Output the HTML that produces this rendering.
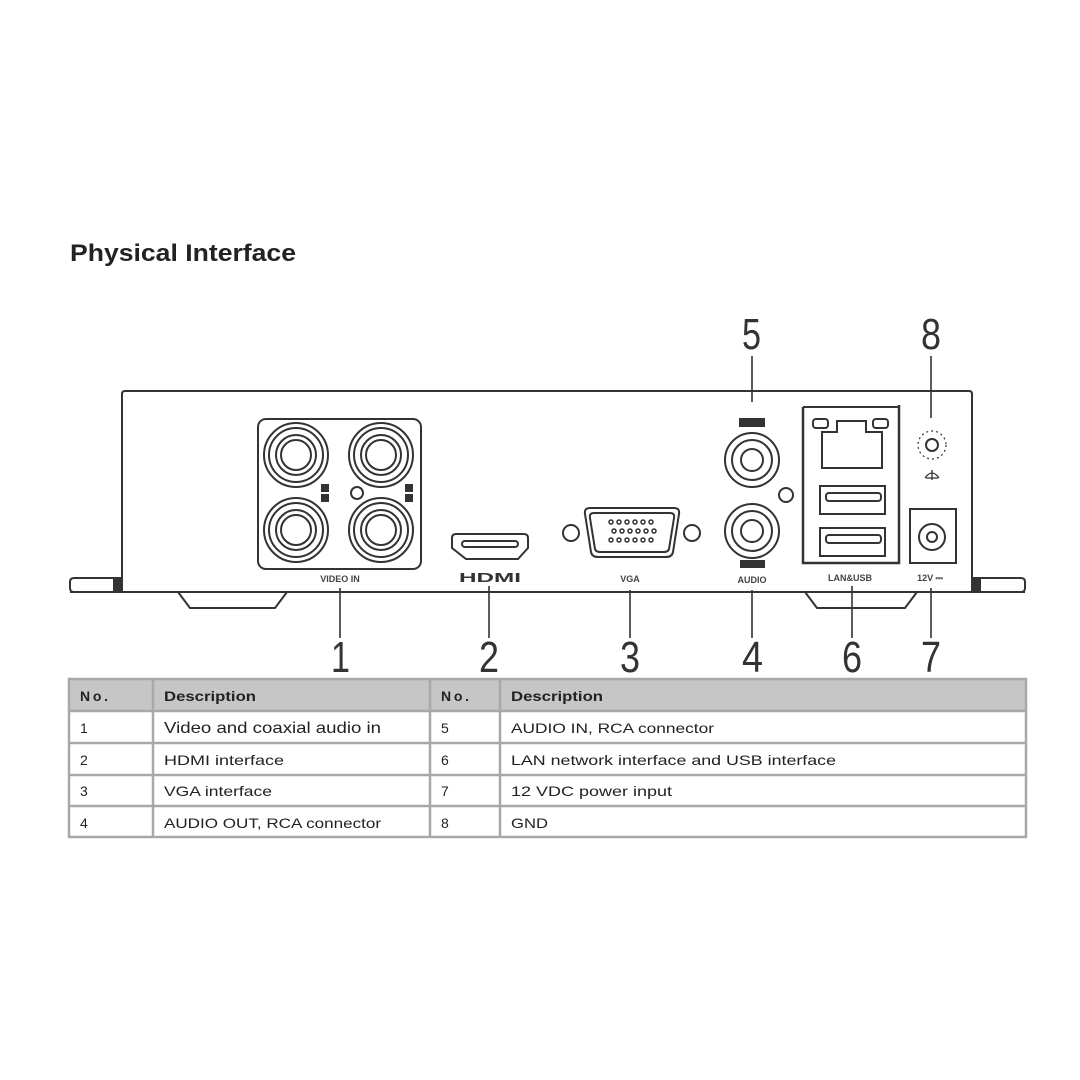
<!DOCTYPE html>
<html><head><meta charset="utf-8"><style>
html,body{margin:0;padding:0;background:#fff}
svg{display:block}
text{font-family:"Liberation Sans",sans-serif}
</style></head><body>
<svg width="1080" height="1080" viewBox="0 0 1080 1080" xmlns="http://www.w3.org/2000/svg">
<rect width="1080" height="1080" fill="#fff"/>
<text x="70" y="261" font-size="24" font-weight="bold" fill="#222" textLength="226" lengthAdjust="spacingAndGlyphs">Physical Interface</text>

<g fill="none" stroke="#333" stroke-width="2">
<path d="M122 592 V394 Q122 391 125 391 H969 Q972 391 972 394 V592"/>
<line x1="70" y1="592" x2="1025" y2="592"/>
<path d="M122 578 H74 Q70 578 70 582 V588 Q70 592 74 592"/>
<path d="M972 578 H1021 Q1025 578 1025 582 V588 Q1025 592 1021 592"/>
<rect x="114" y="580" width="8" height="12" fill="#333"/>
<rect x="972" y="580" width="8" height="12" fill="#333"/>
<path d="M178 592 L190 608 H275 L287 592"/>
<path d="M805 592 L817 608 H905 L917 592"/>

<rect x="258" y="419" width="163" height="150" rx="8"/>
<g id="bnc">
<circle cx="296" cy="455" r="32"/><circle cx="296" cy="455" r="27"/><circle cx="296" cy="455" r="20"/><circle cx="296" cy="455" r="15"/>
</g>
<use href="#bnc" x="85"/><use href="#bnc" y="75"/><use href="#bnc" x="85" y="75"/>
<circle cx="357" cy="493" r="6"/>
<rect x="322" y="485" width="6" height="6" fill="#333"/><rect x="322" y="495" width="6" height="6" fill="#333"/>
<rect x="406" y="485" width="6" height="6" fill="#333"/><rect x="406" y="495" width="6" height="6" fill="#333"/>

<path d="M456 534 H524 Q528 534 528 538 V548 L518 559 H466 L452 548 V538 Q452 534 456 534Z"/>
<rect x="462" y="541" width="56" height="6" rx="3"/>

<circle cx="571" cy="533" r="8"/><circle cx="692" cy="533" r="8"/>
<path d="M590 508 H674 Q680 508 679 514 L673 552 Q672 557 666 557 H598 Q592 557 591 552 L585 514 Q584 508 590 508Z"/>
<path d="M594 513 H670 Q675 513 674 518 L669 549 Q668 552 664 552 H600 Q596 552 595 549 L590 518 Q589 513 594 513Z"/>
<g stroke-width="1.5">
<circle cx="611" cy="522" r="2"/><circle cx="619" cy="522" r="2"/><circle cx="627" cy="522" r="2"/><circle cx="635" cy="522" r="2"/><circle cx="643" cy="522" r="2"/><circle cx="651" cy="522" r="2"/>
<circle cx="614" cy="531" r="2"/><circle cx="622" cy="531" r="2"/><circle cx="630" cy="531" r="2"/><circle cx="638" cy="531" r="2"/><circle cx="646" cy="531" r="2"/><circle cx="654" cy="531" r="2"/>
<circle cx="611" cy="540" r="2"/><circle cx="619" cy="540" r="2"/><circle cx="627" cy="540" r="2"/><circle cx="635" cy="540" r="2"/><circle cx="643" cy="540" r="2"/><circle cx="651" cy="540" r="2"/>
</g>

<circle cx="752" cy="460" r="27"/><circle cx="752" cy="460" r="20"/><circle cx="752" cy="460" r="11"/>
<circle cx="752" cy="531" r="27"/><circle cx="752" cy="531" r="20"/><circle cx="752" cy="531" r="11"/>
<circle cx="786" cy="495" r="7"/>
<rect x="739" y="418" width="26" height="9" fill="#333" stroke="none"/>
<rect x="740" y="560" width="25" height="8" fill="#333" stroke="none"/>

<path d="M803 407 V563 H899 V405" stroke-width="2.5"/>
<path d="M803 407 H899"/>
<rect x="813" y="419" width="15" height="9" rx="3"/><rect x="873" y="419" width="15" height="9" rx="3"/>
<path d="M822 468 V432 H837 V421 H866 V432 H882 V468 Z"/>
<rect x="820" y="486" width="65" height="28"/><rect x="826" y="493" width="55" height="8" rx="3"/>
<rect x="820" y="528" width="65" height="28"/><rect x="826" y="535" width="55" height="8" rx="3"/>

<circle cx="932" cy="445" r="6"/>
<circle cx="932" cy="445" r="14" stroke-dasharray="2 3" stroke-width="1.2"/>
<path d="M925 478 Q932 468 939 478 M932 470 V480 M926 478 H938" stroke-width="1.3"/>

<rect x="910" y="509" width="46" height="54"/>
<circle cx="932" cy="537" r="13"/><circle cx="932" cy="537" r="5"/>

<g stroke-width="1.6">
<line x1="752" y1="356" x2="752" y2="402"/>
<line x1="931" y1="356" x2="931" y2="418"/>
<line x1="340" y1="588" x2="340" y2="638"/>
<line x1="489" y1="586" x2="489" y2="638"/>
<line x1="630" y1="590" x2="630" y2="638"/>
<line x1="752" y1="590" x2="752" y2="638"/>
<line x1="852" y1="586" x2="852" y2="638"/>
<line x1="931" y1="588" x2="931" y2="638"/>
</g>
</g>

<g fill="#444" font-size="9" font-weight="bold" text-anchor="middle">
<text x="340" y="582">VIDEO IN</text>
<text x="630" y="582">VGA</text>
<text x="752" y="583">AUDIO</text>
<text x="850" y="581">LAN&amp;USB</text>
<text x="930" y="581">12V ⎓</text>
</g>
<text x="490" y="582" font-size="13" font-weight="bold" fill="#333" text-anchor="middle" textLength="62" lengthAdjust="spacingAndGlyphs">HDMI</text>

<g fill="#333" font-size="44">
<text x="742" y="349" textLength="19" lengthAdjust="spacingAndGlyphs">5</text>
<text x="921" y="349" textLength="20" lengthAdjust="spacingAndGlyphs">8</text>
<text x="331" y="672" textLength="19" lengthAdjust="spacingAndGlyphs">1</text>
<text x="479" y="672" textLength="20" lengthAdjust="spacingAndGlyphs">2</text>
<text x="620" y="672" textLength="20" lengthAdjust="spacingAndGlyphs">3</text>
<text x="742" y="672" textLength="21" lengthAdjust="spacingAndGlyphs">4</text>
<text x="842" y="672" textLength="20" lengthAdjust="spacingAndGlyphs">6</text>
<text x="921" y="672" textLength="20" lengthAdjust="spacingAndGlyphs">7</text>
</g>

<rect x="69" y="679" width="957" height="32" fill="#c6c6c6"/>
<g fill="none" stroke="#a8a8a8" stroke-width="2.5">
<rect x="69" y="679" width="957" height="158"/>
<line x1="69" y1="711" x2="1026" y2="711"/>
<line x1="69" y1="743" x2="1026" y2="743"/>
<line x1="69" y1="775" x2="1026" y2="775"/>
<line x1="69" y1="806" x2="1026" y2="806"/>
<line x1="153" y1="679" x2="153" y2="837"/>
<line x1="430" y1="679" x2="430" y2="837"/>
<line x1="500" y1="679" x2="500" y2="837"/>
</g>
<g font-size="14" fill="#222" lengthAdjust="spacingAndGlyphs">
<g font-weight="bold" font-size="14"><text x="80" y="701" textLength="28">No.</text><text x="164" y="701" textLength="92" lengthAdjust="spacingAndGlyphs">Description</text><text x="441" y="701" textLength="28">No.</text><text x="511" y="701" textLength="92" lengthAdjust="spacingAndGlyphs">Description</text></g>
<text x="80" y="733">1</text><text x="164" y="733" font-size="16" textLength="217" lengthAdjust="spacingAndGlyphs">Video and coaxial audio in</text><text x="441" y="733">5</text><text x="511" y="733" textLength="203" lengthAdjust="spacingAndGlyphs">AUDIO IN, RCA connector</text>
<text x="80" y="765">2</text><text x="164" y="765" textLength="120" lengthAdjust="spacingAndGlyphs">HDMI interface</text><text x="441" y="765">6</text><text x="511" y="765" textLength="325" lengthAdjust="spacingAndGlyphs">LAN network interface and USB interface</text>
<text x="80" y="796">3</text><text x="164" y="796" textLength="108" lengthAdjust="spacingAndGlyphs">VGA interface</text><text x="441" y="796">7</text><text x="511" y="796" textLength="161" lengthAdjust="spacingAndGlyphs">12 VDC power input</text>
<text x="80" y="828">4</text><text x="164" y="828" textLength="217" lengthAdjust="spacingAndGlyphs">AUDIO OUT, RCA connector</text><text x="441" y="828">8</text><text x="511" y="828" textLength="37" lengthAdjust="spacingAndGlyphs">GND</text>
</g>
</svg>
</body></html>
